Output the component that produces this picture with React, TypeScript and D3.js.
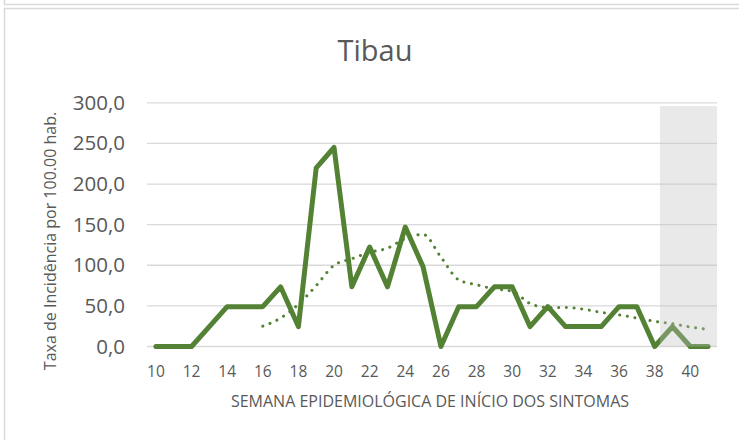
"use client"

import * as React from "react"
import * as d3 from "d3"

const weeks = d3.range(10, 42)
const rates = [
  0, 0, 0, 24.5, 49, 49, 49, 73.5, 24.5, 220, 245, 73.5, 122.5, 73.5, 147, 98,
  0, 49, 49, 73.5, 73.5, 24.5, 49, 24.5, 24.5, 24.5, 49, 49, 0, 24.5, 0, 0,
]
const trendWeeks = d3.range(16, 42)
const trendValues = [
  25, 35, 52, 75, 100, 108, 116, 121, 133, 138, 110, 82, 76, 71, 68, 53, 48, 48,
  46, 42, 39, 35, 31, 28, 24, 21,
]
const yTicks = [0, 50, 100, 150, 200, 250, 300]
const xTickWeeks = d3.range(10, 41, 2)
const shadedFrom = 38
const shadedTop = 296

const title = "Tibau"
const xTitle = "SEMANA EPIDEMIOLÓGICA DE INÍCIO DOS SINTOMAS"
const yTitle = "Taxa de Incidência por 100.00 hab."

const width = 739
const height = 440
const font = "'Open Sans', 'Noto Sans', sans-serif"

function render(svgRef: React.RefObject<SVGSVGElement>) {
  const svg = d3.select(svgRef.current)
  svg.selectAll("*").remove()

  const plot = { left: 147, right: 717, top: 102.8, bottom: 346.5 }

  const xScale = d3
    .scaleBand<number>()
    .domain(weeks)
    .range([plot.left, plot.right])
    .padding(0)
  const xc = (w: number) => xScale(w)! + xScale.bandwidth() / 2

  const yScale = d3.scaleLinear().domain([0, 300]).range([plot.bottom, plot.top])

  // outer frames
  svg
    .append("rect")
    .attr("width", width)
    .attr("height", height)
    .attr("fill", "white")
  svg
    .append("path")
    .attr("d", `M4.5,0 V4.5 H${width} M4.5,${height} V8.5 H${width}`)
    .attr("fill", "none")
    .attr("stroke", "#d9d9d9")
    .attr("stroke-width", 1.5)

  // gridlines
  svg
    .selectAll(".grid")
    .data(yTicks)
    .join("line")
    .attr("class", "grid")
    .attr("x1", plot.left)
    .attr("x2", plot.right)
    .attr("y1", (d) => yScale(d))
    .attr("y2", (d) => yScale(d))
    .attr("stroke", "#d9d9d9")
    .attr("stroke-width", 1.3)

  // y tick labels
  svg
    .selectAll(".ylab")
    .data(yTicks)
    .join("text")
    .attr("class", "ylab")
    .attr("x", 125)
    .attr("y", (d) => yScale(d) + 7)
    .attr("text-anchor", "end")
    .attr("fill", "#595959")
    .attr("font-family", font)
    .attr("font-size", 20.5)
    .text((d) => d3.format(".1f")(d).replace(".", ","))

  // x tick labels
  svg
    .selectAll(".xlab")
    .data(xTickWeeks)
    .join("text")
    .attr("class", "xlab")
    .attr("x", (d) => xc(d))
    .attr("y", 377)
    .attr("text-anchor", "middle")
    .attr("fill", "#595959")
    .attr("font-family", font)
    .attr("font-size", 15.5)
    .text((d) => d)

  // trend (dotted)
  const trendLine = d3
    .line<number>()
    .x((d, i) => xc(trendWeeks[i]))
    .y((d) => yScale(d))
    .curve(d3.curveMonotoneX)
  svg
    .append("path")
    .attr("d", trendLine(trendValues))
    .attr("fill", "none")
    .attr("stroke", "#548235")
    .attr("stroke-width", 3)
    .attr("stroke-linecap", "round")
    .attr("stroke-dasharray", "0.1 7.6")

  // main series
  const line = d3
    .line<number>()
    .x((d, i) => xc(weeks[i]))
    .y((d) => yScale(d))
  svg
    .append("path")
    .attr("d", line(rates))
    .attr("fill", "none")
    .attr("stroke", "#548235")
    .attr("stroke-width", 5)
    .attr("stroke-linecap", "round")
    .attr("stroke-linejoin", "round")

  // shaded (incomplete) weeks
  const sx = xScale(shadedFrom)! + xScale.step() * 0.8
  svg
    .append("rect")
    .attr("x", sx)
    .attr("y", yScale(shadedTop))
    .attr("width", plot.right - sx)
    .attr("height", plot.bottom - yScale(shadedTop))
    .attr("fill", "rgba(191,191,191,0.35)")

  // titles
  svg
    .append("text")
    .attr("x", 375)
    .attr("y", 61)
    .attr("text-anchor", "middle")
    .attr("fill", "#595959")
    .attr("font-family", font)
    .attr("font-size", 29)
    .text(title)

  svg
    .append("text")
    .attr("x", 430)
    .attr("y", 407)
    .attr("text-anchor", "middle")
    .attr("fill", "#595959")
    .attr("font-family", font)
    .attr("font-size", 16)
    .text(xTitle)

  svg
    .append("text")
    .attr("transform", "translate(56,241) rotate(-90)")
    .attr("text-anchor", "middle")
    .attr("fill", "#595959")
    .attr("font-family", font)
    .attr("font-size", 16)
    .text(yTitle)
}

export default function App(): React.JSX.Element {
  const svg = React.useRef<SVGSVGElement>(null)

  React.useEffect(() => {
    document.body.style.margin = "0"
    render(svg)
  }, [])

  return (
    <div style={{ width, height }}>
      <svg ref={svg} width={width} height={height} style={{ display: "block" }}></svg>
    </div>
  )
}
